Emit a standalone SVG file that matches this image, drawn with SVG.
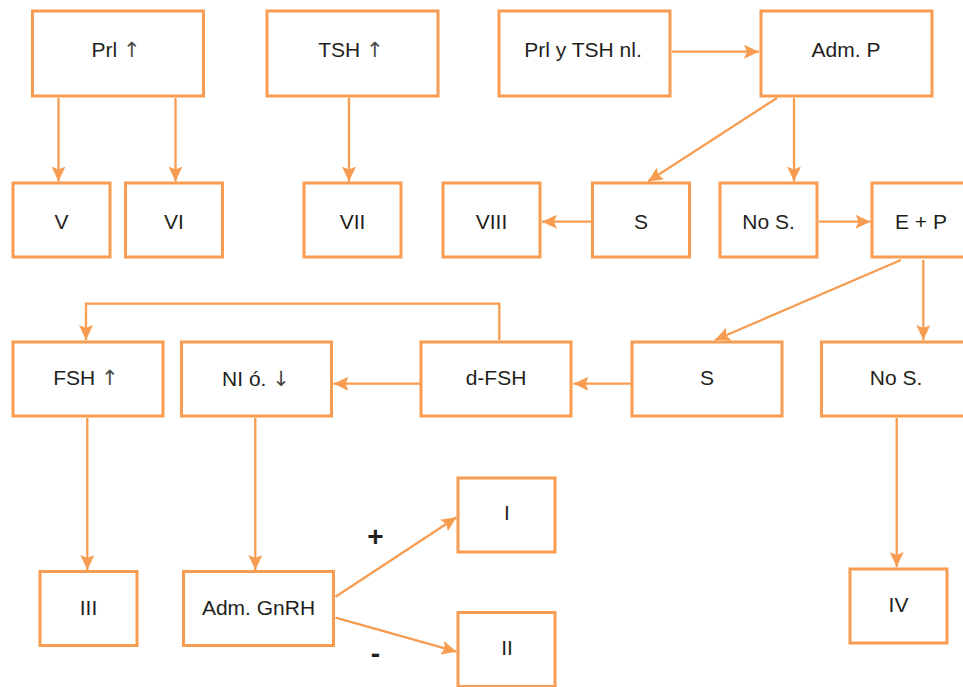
<svg xmlns="http://www.w3.org/2000/svg" width="963" height="687" viewBox="0 0 963 687">
<style>
.box{fill:#fff;stroke:#F79C50;stroke-width:3}
.c{fill:none;stroke:#F79C50;stroke-width:2.3}
.t{font-family:"Liberation Sans",Arial,sans-serif;font-size:21px;fill:#231F20;text-anchor:middle}
.a{font-family:"DejaVu Sans",sans-serif;font-size:21px;fill:#4a4a4a}
.s{font-family:"Liberation Sans",Arial,sans-serif;font-size:28px;font-weight:bold;fill:#231F20;text-anchor:middle}
</style>
<defs>
<marker id="ah" markerUnits="userSpaceOnUse" markerWidth="16" markerHeight="14" refX="15" refY="7" orient="auto">
<path d="M0,0 L15,7 L0,14 L3,7 z" fill="#F79C50"/>
</marker>
</defs>
<rect width="963" height="687" fill="#fff"/>
<g id="connectors">
<path class="c" marker-end="url(#ah)" d="M58.5,98 V181.5"/>
<path class="c" marker-end="url(#ah)" d="M175.5,98 V181.5"/>
<path class="c" marker-end="url(#ah)" d="M349,98 V181.5"/>
<path class="c" marker-end="url(#ah)" d="M672,51.7 H759"/>
<path class="c" marker-end="url(#ah)" d="M777,98 L648,181.5"/>
<path class="c" marker-end="url(#ah)" d="M794,98 V181.5"/>
<path class="c" marker-end="url(#ah)" d="M591,221.7 H542"/>
<path class="c" marker-end="url(#ah)" d="M819,221.7 H870.5"/>
<path class="c" marker-end="url(#ah)" d="M901,260 L715,340"/>
<path class="c" marker-end="url(#ah)" d="M923.3,260 V340"/>
<path class="c" marker-end="url(#ah)" d="M499.3,340 V303.7 H86 V340"/>
<path class="c" marker-end="url(#ah)" d="M420,383.7 H333.5"/>
<path class="c" marker-end="url(#ah)" d="M631,383.7 H573.5"/>
<path class="c" marker-end="url(#ah)" d="M87.3,418 V570"/>
<path class="c" marker-end="url(#ah)" d="M255.3,418 V570"/>
<path class="c" marker-end="url(#ah)" d="M335.5,596.7 L456.5,517.3"/>
<path class="c" marker-end="url(#ah)" d="M335.5,617.7 L456.5,651.7"/>
<path class="c" marker-end="url(#ah)" d="M896.7,418 V567"/>
</g>
<g id="n-prl"><rect class="box" x="32.5" y="11" width="171" height="85"/><text class="t" x="116" y="57.3">Prl <tspan class="a">↑</tspan></text></g>
<g id="n-tsh"><rect class="box" x="267" y="11" width="171" height="85"/><text class="t" x="351" y="57.3">TSH <tspan class="a">↑</tspan></text></g>
<g id="n-prltsh"><rect class="box" x="499" y="11" width="171" height="85"/><text class="t" x="583" y="57.3">Prl y TSH nl.</text></g>
<g id="n-admp"><rect class="box" x="761" y="11" width="171" height="85"/><text class="t" x="846" y="57.3">Adm. P</text></g>
<g id="n-v"><rect class="box" x="13" y="183" width="97" height="74"/><text class="t" x="61.5" y="228.7">V</text></g>
<g id="n-vi"><rect class="box" x="125.5" y="183" width="97" height="74"/><text class="t" x="174" y="228.7">VI</text></g>
<g id="n-vii"><rect class="box" x="304" y="183" width="97" height="74"/><text class="t" x="352.5" y="228.7">VII</text></g>
<g id="n-viii"><rect class="box" x="443" y="183" width="97" height="74"/><text class="t" x="491.5" y="228.7">VIII</text></g>
<g id="n-s1"><rect class="box" x="592.5" y="183" width="97" height="74"/><text class="t" x="641" y="228.7">S</text></g>
<g id="n-nos1"><rect class="box" x="720" y="183" width="97" height="74"/><text class="t" x="768.5" y="228.7">No S.</text></g>
<g id="n-ep"><rect class="box" x="872" y="183" width="97" height="74"/><text class="t" x="921" y="228.7">E + P</text></g>
<g id="n-fsh"><rect class="box" x="13" y="342" width="150" height="74"/><text class="t" x="86" y="385">FSH <tspan class="a">↑</tspan></text></g>
<g id="n-ni"><rect class="box" x="181.5" y="342" width="150" height="74"/><text class="t" x="256" y="386">NI ó. <tspan class="a">↓</tspan></text></g>
<g id="n-dfsh"><rect class="box" x="421" y="342" width="150" height="74"/><text class="t" x="496" y="385">d-FSH</text></g>
<g id="n-s2"><rect class="box" x="632" y="342" width="150" height="74"/><text class="t" x="707" y="385">S</text></g>
<g id="n-nos2"><rect class="box" x="821.5" y="342" width="150" height="74"/><text class="t" x="896" y="385">No S.</text></g>
<g id="n-iii"><rect class="box" x="40" y="571.5" width="97" height="74"/><text class="t" x="88.5" y="615">III</text></g>
<g id="n-gnrh"><rect class="box" x="183.5" y="571.5" width="150" height="74"/><text class="t" x="258.5" y="615">Adm. GnRH</text></g>
<g id="n-i"><rect class="box" x="458" y="478" width="97" height="74"/><text class="t" x="507" y="520">I</text></g>
<g id="n-ii"><rect class="box" x="458" y="612.5" width="97" height="74"/><text class="t" x="507" y="655">II</text></g>
<g id="n-iv"><rect class="box" x="850" y="569" width="97" height="74"/><text class="t" x="898.5" y="612">IV</text></g>
<text class="s" x="375.5" y="546">+</text>
<text class="s" x="375.5" y="663">-</text>
</svg>
